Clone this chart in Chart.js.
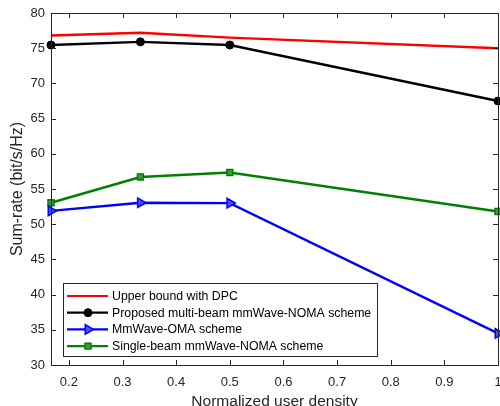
<!DOCTYPE html>
<html><head><meta charset="utf-8">
<script src="https://cdn.jsdelivr.net/npm/chart.js@4.4.0/dist/chart.umd.min.js"></script>
<style>html,body{margin:0;padding:0;background:#fff}#wrap{width:500px;height:406px}</style>
</head><body><div id="wrap"><canvas id="c" width="500" height="406"></canvas></div>
<script>
const xValues = [1/6, 1/3, 0.5, 1];
const upperDPC = [76.8, 77.2, 76.5, 75.0];
const proposedMultiBeam = [75.45, 75.9, 75.45, 67.5];
const mmWaveOMA = [51.9, 53.05, 53.0, 34.5];
const singleBeam = [53.05, 56.7, 57.35, 51.8];
const xTicks = [0.2, 0.3, 0.4, 0.5, 0.6, 0.7, 0.8, 0.9, 1];
const yTicks = [30, 35, 40, 45, 50, 55, 60, 65, 70, 75, 80];
const seriesNames = ['Upper bound with DPC', 'Proposed multi-beam mmWave-NOMA scheme', 'MmWave-OMA scheme', 'Single-beam mmWave-NOMA scheme'];

const FONT = '"Liberation Sans", Arial, Helvetica, sans-serif';
const AX = '#262626';
const pts = arr => arr.map((v, i) => ({x: xValues[i], y: v}));

const boxTicks = {
  id: 'boxTicks',
  afterDatasetsDraw(chart) {
    const {ctx, chartArea: a, scales: {x, y}} = chart;
    ctx.save();
    ctx.strokeStyle = AX; ctx.lineWidth = 1;
    ctx.beginPath();
    const L = 5;
    xTicks.forEach(v => {
      const px = Math.round(x.getPixelForValue(v)) + 0.5;
      ctx.moveTo(px, a.bottom); ctx.lineTo(px, a.bottom - L);
      ctx.moveTo(px, a.top); ctx.lineTo(px, a.top + L);
    });
    yTicks.forEach(v => {
      const py = Math.round(y.getPixelForValue(v)) + 0.5;
      ctx.moveTo(a.left, py); ctx.lineTo(a.left + L, py);
      ctx.moveTo(a.right, py); ctx.lineTo(a.right - L, py);
    });
    ctx.stroke();
    ctx.strokeRect(Math.round(a.left) + 0.5, Math.round(a.top) + 0.5, Math.round(a.right - a.left), Math.round(a.bottom - a.top));
    ctx.restore();
  },
  afterDraw(chart) {
    const {ctx} = chart;
    const bx = 63, by = 283, bw = 314, bh = 73;
    ctx.save();
    ctx.fillStyle = '#fff';
    ctx.fillRect(bx, by, bw, bh);
    ctx.strokeStyle = '#262626'; ctx.lineWidth = 1;
    ctx.strokeRect(bx + 0.5, by + 0.5, bw, bh);
    chart.data.datasets.forEach((ds, i) => {
      const cy = 296 + i * 16.7;
      ctx.strokeStyle = ds.borderColor; ctx.lineWidth = 2.2;
      ctx.beginPath(); ctx.moveTo(67, cy); ctx.lineTo(108, cy); ctx.stroke();
      if (ds.pointRadius > 0) {
        ctx.fillStyle = ds.pointBackgroundColor; ctx.strokeStyle = ds.pointBorderColor; ctx.lineWidth = ds.pointBorderWidth;
        Chart.helpers.drawPoint(ctx, {pointStyle: ds.pointStyle, rotation: ds.pointRotation || 0, radius: ds.pointRadius, borderWidth: ds.pointBorderWidth}, 88, cy);
      }
      ctx.fillStyle = '#000';
      ctx.font = '12.3px ' + FONT;
      ctx.textBaseline = 'middle'; ctx.textAlign = 'left';
      ctx.fillText(ds.label, 112, cy + 0.5);
    });
    ctx.restore();
  }
};

new Chart(document.getElementById('c'), {
  type: 'line',
  data: {
    datasets: [
      {label: seriesNames[0], data: pts(upperDPC), borderColor: '#ff0000', borderWidth: 2.4, pointRadius: 0, pointHoverRadius: 0},
      {label: seriesNames[1], data: pts(proposedMultiBeam), borderColor: '#000000', borderWidth: 2.4, pointStyle: 'circle', pointRadius: 4, pointBackgroundColor: '#000', pointBorderColor: '#000', pointBorderWidth: 1},
      {label: seriesNames[2], data: pts(mmWaveOMA), borderColor: '#0000ff', borderWidth: 2.4, pointStyle: 'triangle', pointRotation: 90, pointRadius: 5.5, pointBackgroundColor: '#4d4dff', pointBorderColor: '#0000ff', pointBorderWidth: 1.5},
      {label: seriesNames[3], data: pts(singleBeam), borderColor: '#008000', borderWidth: 2.4, pointStyle: 'rect', pointRadius: 4.2, pointBackgroundColor: '#3a9a3a', pointBorderColor: '#008000', pointBorderWidth: 1.5}
    ]
  },
  options: {
    responsive: false, animation: false, devicePixelRatio: 1,
    clip: false,
    layout: {autoPadding: false, padding: {top: 13, right: 2, left: 0, bottom: 0}},
    plugins: {legend: {display: false}, tooltip: {enabled: false}},
    elements: {line: {tension: 0}},
    scales: {
      x: {
        type: 'linear', min: 1/6, max: 1,
        afterBuildTicks: s => { s.ticks = xTicks.map(v => ({value: v})); },
        afterFit: s => { s.height = 41; s.paddingLeft = 0; s.paddingRight = 0; },
        border: {display: false},
        grid: {display: false, drawTicks: false},
        ticks: {color: AX, font: {family: FONT, size: 13}, padding: 10, maxRotation: 0,
          callback: v => (Math.round(v * 10) / 10).toString()},
        title: {display: true, text: 'Normalized user density', color: AX, font: {family: FONT, size: 15.5, lineHeight: 0.8}, padding: {top: 0, bottom: -2}}
      },
      y: {
        type: 'linear', min: 30, max: 80,
        afterBuildTicks: s => { s.ticks = yTicks.map(v => ({value: v})); },
        afterFit: s => { s.width = 51; s.paddingTop = 0; s.paddingBottom = 0; },
        border: {display: false},
        grid: {display: false, drawTicks: false},
        ticks: {color: AX, font: {family: FONT, size: 13}, padding: 6},
        title: {display: true, text: 'Sum-rate (bit/s/Hz)', color: AX, font: {family: FONT, size: 16, lineHeight: 1.2}, padding: {top: 8, bottom: 0}}
      }
    }
  },
  plugins: [boxTicks]
});
</script></body></html>
